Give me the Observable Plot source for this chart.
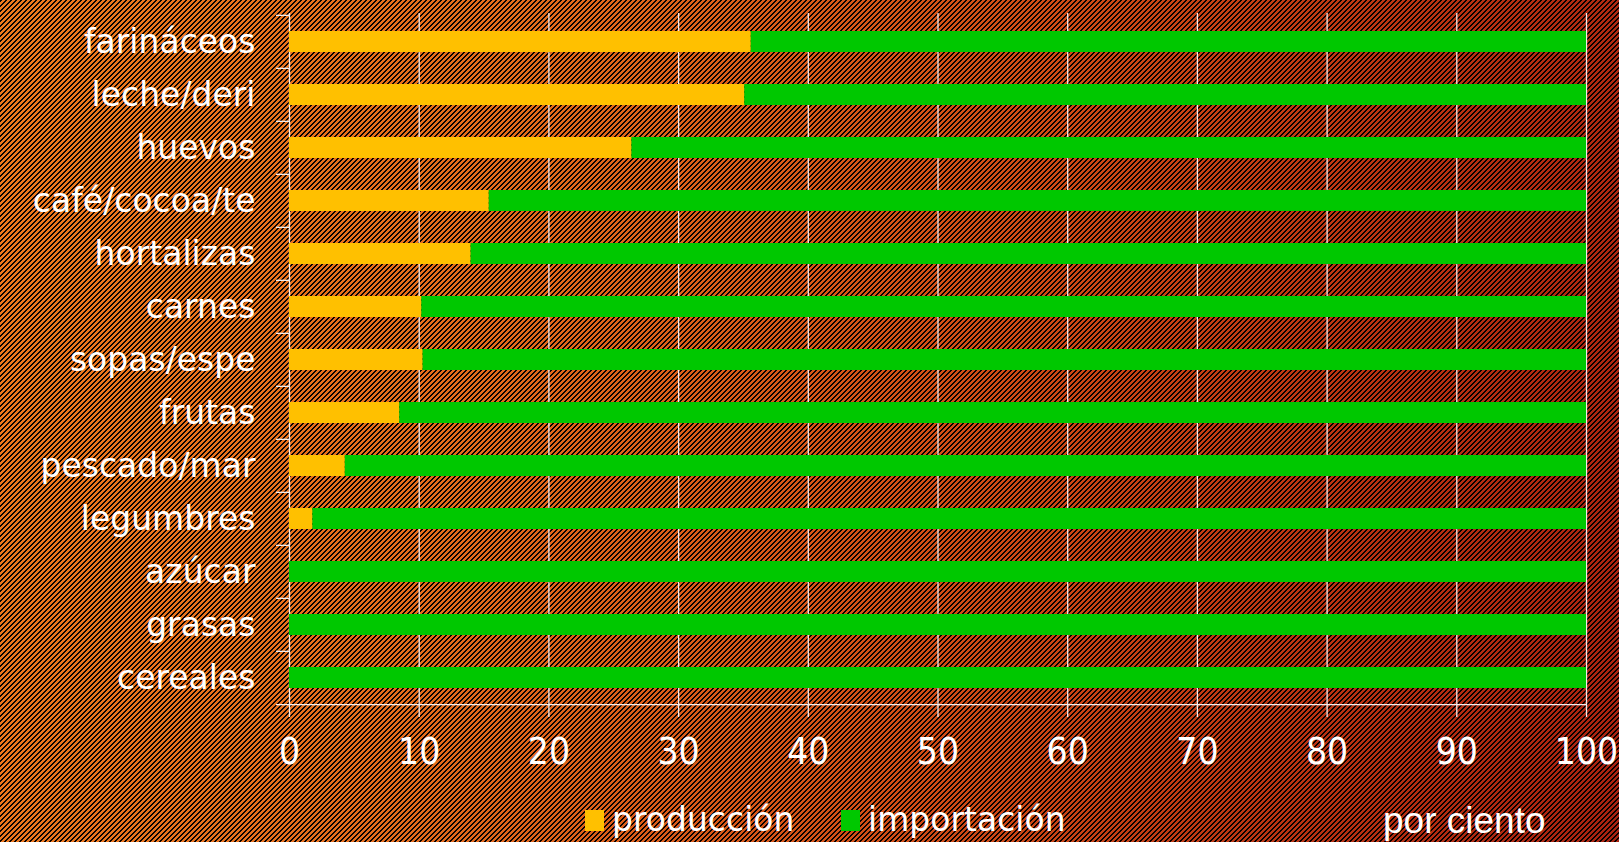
<!DOCTYPE html>
<html>
<head>
<meta charset="utf-8">
<script src="https://cdn.jsdelivr.net/npm/d3@7"></script>
<script src="https://cdn.jsdelivr.net/npm/@observablehq/plot@0.6"></script>
<style>
  html, body { margin: 0; padding: 0; }
  body {
    width: 1619px; height: 842px; overflow: hidden; position: relative;
    background-color: #c04010;
  }
  #chart { position: absolute; left: 0; top: 0; }
  .leg { position: absolute; top: 803px; height: 33px; font-family: "DejaVu Sans", sans-serif; font-size: 33px; line-height: 33px; color: white; white-space: nowrap; }
  .sw { position: absolute; top: 810px; width: 19px; height: 21px; }
  #unit { position: absolute; left: 1383px; top: 802px; font-family: "Liberation Sans", Arial, sans-serif; font-size: 37px; line-height: 37px; color: white; white-space: nowrap; }
</style>
</head>
<body>
<div id="chart"></div>
<div id="unit">por ciento</div>
<script>
const categories = ["farináceos","leche/deri","huevos","café/cocoa/te","hortalizas","carnes","sopas/espe","frutas","pescado/mar","legumbres","azúcar","grasas","cereales"];
const produccion = [35.6, 35.1, 26.4, 15.4, 14.0, 10.2, 10.3, 8.5, 4.3, 1.8, 0, 0, 0];
const importacion = [64.4, 64.9, 73.6, 84.6, 86.0, 89.8, 89.7, 91.5, 95.7, 98.2, 100, 100, 100];
const series = ["producción", "importación"];
const seriesColors = ["#FFC000", "#00C800"];
const xTicks = [0, 10, 20, 30, 40, 50, 60, 70, 80, 90, 100];

// crisp pixel hatch background ("/" diagonals)
(function () {
  const P = 5;
  const c = document.createElement("canvas");
  c.width = P; c.height = P;
  const g = c.getContext("2d");
  const img = g.createImageData(P, P);
  for (let y = 0; y < P; y++) for (let x = 0; x < P; x++) {
    const k = (y * P + x) * 4;
    const on = ((x + y) % P) < 2;
    img.data[k] = 0; img.data[k + 1] = 0; img.data[k + 2] = 0; img.data[k + 3] = on ? 245 : 0;
  }
  g.putImageData(img, 0, 0);
  document.body.style.backgroundImage =
    `url(${c.toDataURL()}), linear-gradient(100deg, #ee7a1e 0%, #e46c1c 30%, #d04c16 60%, #b83212 82%, #a82210 100%)`;
  document.body.style.backgroundRepeat = "repeat, no-repeat";
  document.body.style.imageRendering = "pixelated";
})();

const rows = [];
categories.forEach((c, i) => {
  rows.push({cat: c, serie: series[0], value: produccion[i]});
  rows.push({cat: c, serie: series[1], value: importacion[i]});
});

const W = 1619, H = 780, mt = 13, mb = 74, ml = 289, mr = 33;
const step = (H - mt - mb) / categories.length;
const lineColor = "#f2eeee";

const chart = Plot.plot({
  width: W, height: H,
  marginLeft: ml, marginRight: mr, marginTop: mt, marginBottom: mb,
  style: {background: "transparent", color: "white", fontFamily: "'DejaVu Sans', sans-serif", overflow: "visible"},
  x: {domain: [0, 100], axis: null},
  y: {domain: categories, paddingInner: 0.6, paddingOuter: 0.3, axis: null},
  color: {domain: series, range: seriesColors},
  marks: [
    Plot.ruleX(xTicks, {x: d => d, stroke: lineColor, strokeWidth: 1.3}),
    Plot.axisX({ticks: xTicks, label: null, tickSize: 11, tickPadding: 20, fontSize: 37, fontFamily: "'DejaVu Sans Condensed', 'DejaVu Sans', sans-serif", stroke: lineColor, strokeWidth: 1.3, fill: "white", tickFormat: d => String(d)}),
    Plot.barX(rows, Plot.stackX({y: "cat", x: "value", fill: "serie", order: null})),
    Plot.ruleY(categories, {y: d => d, x1: -1, x2: 0, dy: -step / 2, stroke: lineColor, strokeWidth: 1.3}),
    Plot.ruleY([categories[categories.length - 1]], {y: d => d, x1: -1, x2: 100, dy: step / 2, stroke: lineColor, strokeWidth: 1.3}),
    Plot.axisY({label: null, tickSize: 0, tickPadding: 34, fontSize: 33, fill: "white"})
  ]
});
document.getElementById("chart").appendChild(chart);

// legend
const legX = [585, 841];
series.forEach((s, i) => {
  const sw = document.createElement("div");
  sw.className = "sw";
  sw.style.left = legX[i] + "px";
  sw.style.background = seriesColors[i];
  document.body.appendChild(sw);
  const t = document.createElement("div");
  t.className = "leg";
  t.style.left = (legX[i] + 27) + "px";
  t.textContent = s;
  document.body.appendChild(t);
});
</script>
</body>
</html>
